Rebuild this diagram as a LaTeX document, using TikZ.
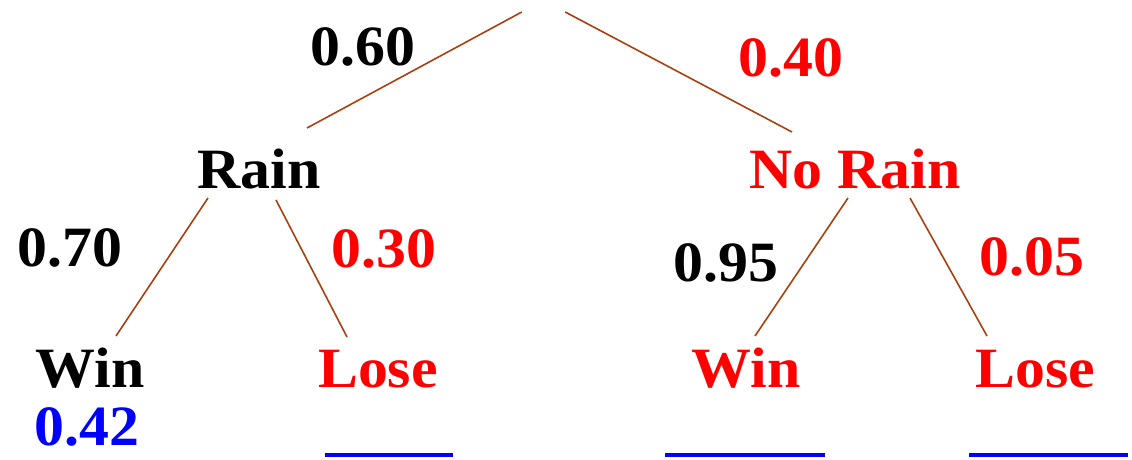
\documentclass[tikz,border=0pt]{standalone}
\usepackage{fontspec}
\setmainfont{Liberation Serif}[FakeStretch=1.05]
\usetikzlibrary{positioning}
\definecolor{twInk}{HTML}{000000}
\definecolor{twRed}{HTML}{FF0000}
\definecolor{twBlue}{HTML}{0000FF}
\definecolor{twBranch}{HTML}{A8400F}
\tikzset{
 odds/.style={font=\fontsize{57}{60}\selectfont\bfseries,inner sep=0pt,anchor=base},
 outcome/.style={odds,text=twInk},
 miss/.style={odds,text=twRed},
 answer/.style={odds,text=twBlue},
 branch/.style={draw=twBranch,line width=1.6pt},
 blank/.style={rectangle,fill=twBlue,inner sep=0pt,minimum height=4pt},
 apex/.style={inner sep=0pt,minimum width=43pt,minimum height=0pt}
}
\begin{document}
\begin{tikzpicture}[x=1pt,y=1pt]
 \useasboundingbox (0,0) rectangle (1132,459);
 \node[apex] (root) at (543.5,447) {};
 \node[outcome] (rain) at (259,271) {Rain};
 \node[miss] (norain) at (855,271) {No Rain};
 \node[outcome] (p60) at (363,393) {0.60};
 \node[miss] (p40) at (791,382) {0.40};
 \node[outcome] (p70) at (70,193) {0.70};
 \node[miss] (p30) at (384,192) {0.30};
 \node[outcome] (p95) at (726,178) {0.95};
 \node[miss] (p05) at (1032,184) {0.05};
 \node[outcome] (winL) at (90,72) {Win};
 \node[miss] (loseL) at (378,72) {Lose};
 \node[miss] (winR) at (746,72) {Win};
 \node[miss] (loseR) at (1035,72) {Lose};
 \node[answer] (p42) at (87,14) {0.42};
 \node[blank,minimum width=128pt] (gapL) at (389,4) {};
 \node[blank,minimum width=160pt] (gapM) at (745,4) {};
 \node[blank,minimum width=159pt] (gapR) at (1048,4) {};
 % branches of the tree
 \draw[branch] (root.west) -- ([shift={(48,60)}]rain.base);
 \draw[branch] (root.east) -- ([shift={(-63,56)}]norain.base);
 \draw[branch] ([shift={(-51,-10)}]rain.base) -- ([shift={(26,51)}]winL.base);
 \draw[branch] ([shift={(17,-12)}]rain.base) -- ([shift={(-31,50)}]loseL.base);
 \draw[branch] ([shift={(-7,-10)}]norain.base) -- ([shift={(9,51)}]winR.base);
 \draw[branch] ([shift={(55,-10)}]norain.base) -- ([shift={(-48,51)}]loseR.base);
\end{tikzpicture}
\end{document}
